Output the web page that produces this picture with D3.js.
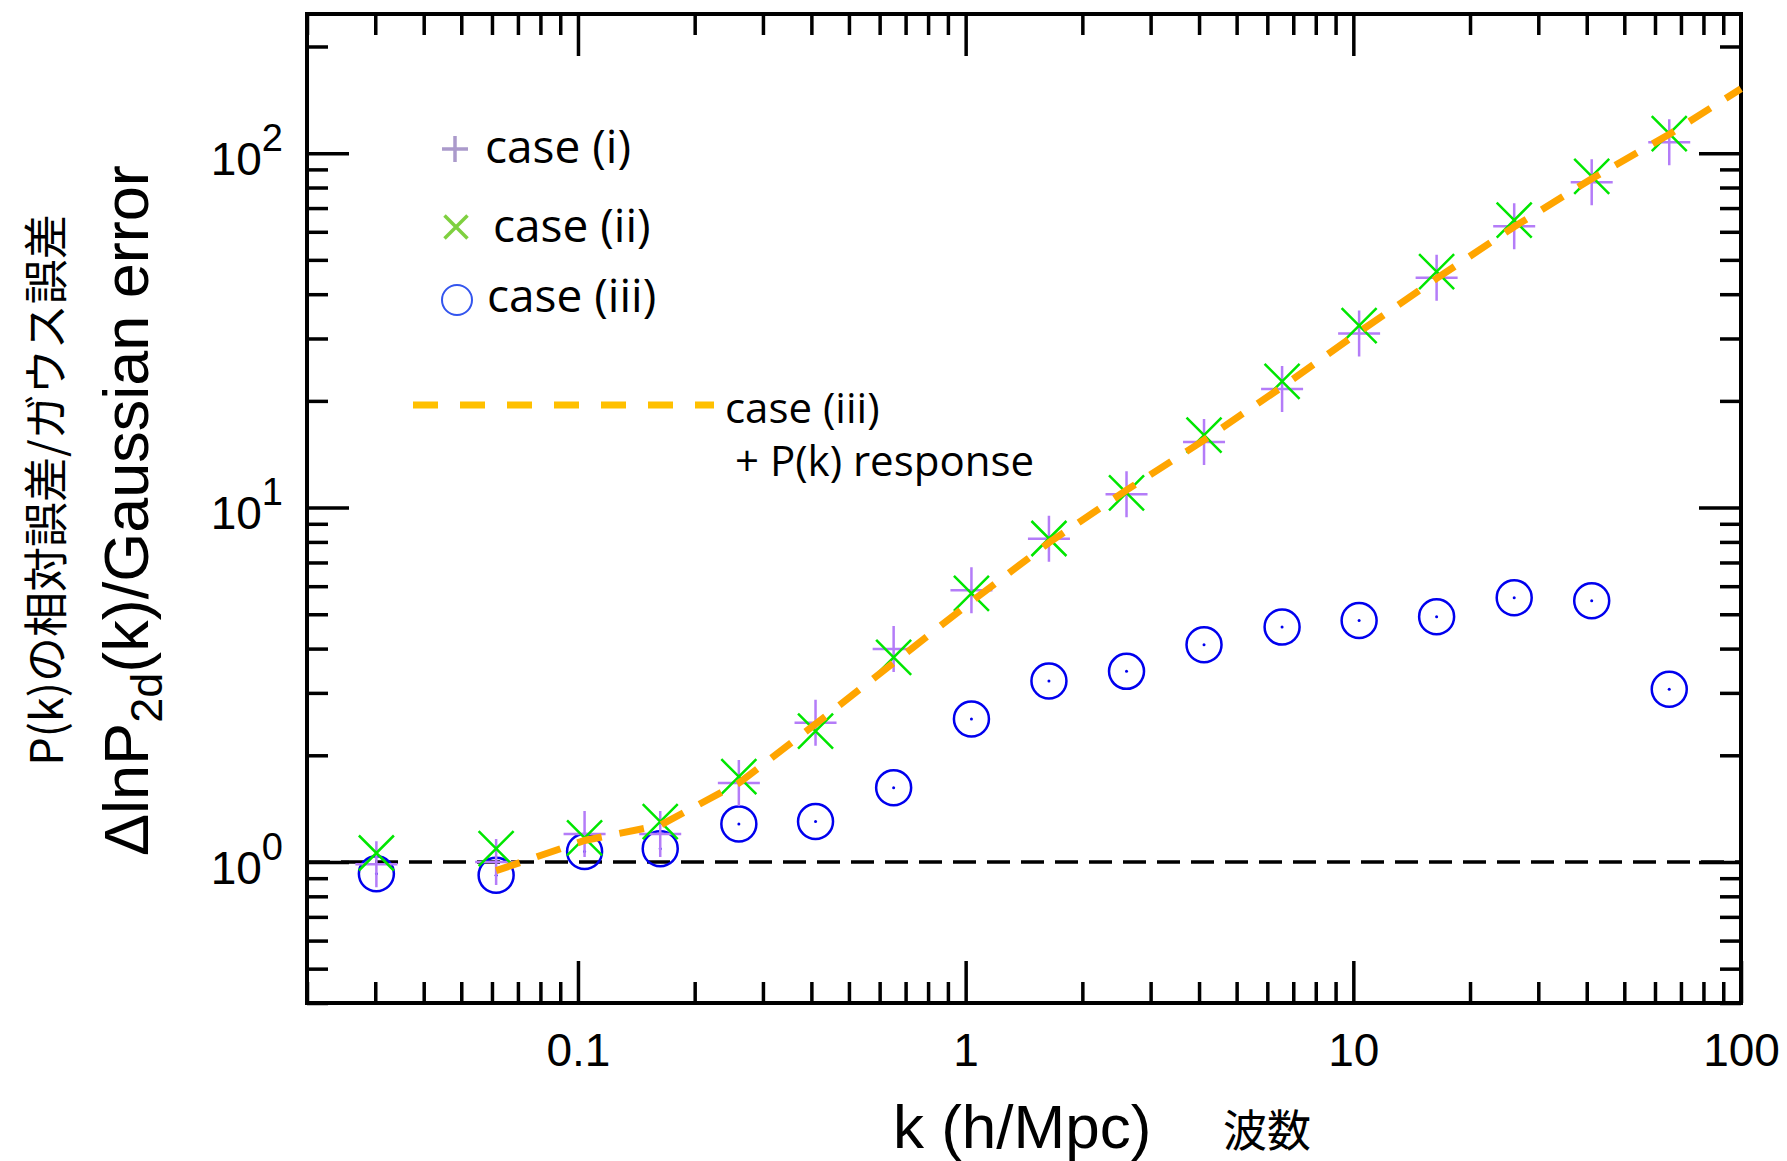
<!DOCTYPE html>
<html><head><meta charset="utf-8">
<script src="https://cdn.jsdelivr.net/npm/d3@7"></script>
<style>body{margin:0;background:#fff}svg{display:block}</style>
</head><body>
<svg id="c" width="1787" height="1161"></svg>
<script>
// ---- data ----
const kBins   = [0.0302, 0.0615, 0.104, 0.163, 0.26, 0.41, 0.652, 1.035, 1.64, 2.6, 4.12, 6.55, 10.35, 16.4, 26.0, 41.2, 65.3];
const caseI   = [0.985, 1.0, 1.2, 1.2, 1.67, 2.47, 3.99, 5.84, 8.16, 10.9, 15.3, 21.6, 31.0, 44.5, 62.2, 82.8, 107.4];
const caseII  = [1.06, 1.09, 1.17, 1.30, 1.74, 2.34, 3.78, 5.73, 8.18, 11.0, 16.0, 22.7, 32.6, 46.3, 64.7, 86.0, 113.5];
const caseIII = [0.926, 0.918, 1.07, 1.09, 1.28, 1.30, 1.62, 2.53, 3.24, 3.45, 4.10, 4.60, 4.80, 4.92, 5.57, 5.46, 3.07];
const respK   = [0.0615, 0.104, 0.163, 0.26, 0.41, 0.652, 1.035, 1.64, 2.6, 4.12, 6.55, 10.35, 16.4, 26.0, 41.2, 65.3, 100];
const respVal = [0.945, 1.15, 1.27, 1.67, 2.45, 3.65, 5.43, 7.96, 11.2, 15.5, 21.9, 31.3, 44.3, 62.0, 84.7, 113, 152];
const xMajor = [0.1, 1, 10, 100];
const xMajorLabels = ["0.1", "1", "10", "100"];
const yMajor = [1, 10, 100];
const yMajorExp = ["0", "1", "2"];
const legendLabels = ["case (i)", "case (ii)", "case (iii)"];
const respLabel = ["case (iii)", "+ P(k) response"];

// ---- layout ----
const svg = d3.select("#c");
const L = 307, R = 1741, T = 14, B = 1003;
const x = d3.scaleLog().domain([0.02, 100]).range([L, R]);
const y = d3.scaleLog().domain([0.4, 247]).range([B, T]);
const isPow10 = v => Math.abs(Math.log10(v) - Math.round(Math.log10(v))) < 1e-9;
const xMinor = x.ticks().filter(v => !isPow10(v));
const yMinor = y.ticks().filter(v => !isPow10(v));
const SANS = "'Liberation Sans', Arial, Helvetica, sans-serif";
const LEG = "'Open Sans', 'Noto Sans', sans-serif";
const CJK = "'Noto Sans CJK JP', sans-serif";

function styleAxis(g) {
  g.select(".domain").remove();
  g.selectAll(".tick line").attr("stroke", "#000").attr("stroke-width", 3.5);
}

// minor ticks on 4 sides
svg.append("g").attr("transform", `translate(0,${B})`)
  .call(d3.axisBottom(x).tickValues(xMinor).tickSize(-21).tickFormat("")).call(styleAxis);
svg.append("g").attr("transform", `translate(0,${T})`)
  .call(d3.axisTop(x).tickValues(xMinor).tickSize(-21).tickFormat("")).call(styleAxis);
svg.append("g").attr("transform", `translate(${L},0)`)
  .call(d3.axisLeft(y).tickValues(yMinor).tickSize(-21).tickFormat("")).call(styleAxis);
svg.append("g").attr("transform", `translate(${R},0)`)
  .call(d3.axisRight(y).tickValues(yMinor).tickSize(-21).tickFormat("")).call(styleAxis);

// major ticks
const gxb = svg.append("g").attr("transform", `translate(0,${B})`)
  .call(d3.axisBottom(x).tickValues(xMajor).tickSize(-42).tickPadding(30)
    .tickFormat((d, i) => xMajorLabels[i])).call(styleAxis);
gxb.selectAll(".tick text").attr("font-family", SANS).attr("font-size", 46).attr("fill", "#000");
svg.append("g").attr("transform", `translate(0,${T})`)
  .call(d3.axisTop(x).tickValues(xMajor.slice(0, 3)).tickSize(-42).tickFormat("")).call(styleAxis);
svg.append("g").attr("transform", `translate(${R},0)`)
  .call(d3.axisRight(y).tickValues(yMajor).tickSize(-42).tickFormat("")).call(styleAxis);
const gyl = svg.append("g").attr("transform", `translate(${L},0)`)
  .call(d3.axisLeft(y).tickValues(yMajor).tickSize(-42).tickPadding(24).tickFormat("")).call(styleAxis);
gyl.selectAll(".tick text").each(function(d, i) {
  const t = d3.select(this).attr("font-family", SANS).attr("font-size", 46).attr("fill", "#000").attr("dy", "0.46em");
  t.append("tspan").text("10");
  t.append("tspan").attr("dy", -24).attr("font-size", 38).text(yMajorExp[i]);
});

// frame
svg.append("rect").attr("x", L).attr("y", T).attr("width", R - L).attr("height", B - T)
  .attr("fill", "none").attr("stroke", "#000").attr("stroke-width", 4);

// unity dashed line
svg.append("path").datum([0.02, 100])
  .attr("d", d3.line().x(d => x(d)).y(() => y(1)))
  .attr("stroke", "#000").attr("stroke-width", 3.5).attr("stroke-dasharray", "23,11").attr("fill", "none");

// case (iii) circles
const gc = svg.append("g");
gc.selectAll("circle.o").data(kBins).join("circle")
  .attr("cx", d => x(d)).attr("cy", (d, i) => y(caseIII[i])).attr("r", 17.5)
  .attr("fill", "none").attr("stroke", "#0000ee").attr("stroke-width", 2.5);
gc.selectAll("circle.dot").data(kBins).join("circle").attr("class", "dot")
  .attr("cx", d => x(d)).attr("cy", (d, i) => y(caseIII[i])).attr("r", 1.5).attr("fill", "#0000ee");

// case (i) plus
svg.append("g").selectAll("path").data(kBins).join("path")
  .attr("d", (d, i) => { const cx = x(d), cy = y(caseI[i]);
    return `M${cx-21},${cy}H${cx+21}M${cx},${cy-23}V${cy+23}`; })
  .attr("stroke", "#b47cf8").attr("stroke-width", 2.5).attr("fill", "none");

// case (ii) cross
svg.append("g").selectAll("path").data(kBins).join("path")
  .attr("d", (d, i) => { const cx = x(d), cy = y(caseII[i]), s = 17.5;
    return `M${cx-s},${cy-s}L${cx+s},${cy+s}M${cx+s},${cy-s}L${cx-s},${cy+s}`; })
  .attr("stroke", "#00e600").attr("stroke-width", 2.5).attr("fill", "none");

// case (iii) + response
svg.append("path").datum(respK)
  .attr("d", d3.line().x(d => x(d)).y((d, i) => y(respVal[i])))
  .attr("stroke", "#ffa500").attr("stroke-width", 7).attr("stroke-dasharray", "25,18").attr("fill", "none");

// legend
const lg = svg.append("g");
lg.append("path").attr("d", "M442,149H468M455,136V162").attr("stroke", "#ab9acb").attr("stroke-width", 3.5);
lg.append("path").attr("d", "M444.5,215.5L467.5,238.5M467.5,215.5L444.5,238.5").attr("stroke", "#7fd040").attr("stroke-width", 3.5);
lg.append("circle").attr("cx", 457).attr("cy", 300).attr("r", 15).attr("fill", "none").attr("stroke", "#3355ee").attr("stroke-width", 2);
const legPos = [[485, 163], [493, 242], [487, 312]];
legendLabels.forEach((s, i) => lg.append("text").attr("x", legPos[i][0]).attr("y", legPos[i][1])
  .attr("font-family", LEG).attr("font-size", 46).attr("fill", "#000").text(s));
lg.append("line").attr("x1", 413).attr("x2", 714).attr("y1", 405).attr("y2", 405)
  .attr("stroke", "#ffc000").attr("stroke-width", 7).attr("stroke-dasharray", "25,22");
lg.append("text").attr("x", 725).attr("y", 423).attr("font-family", LEG).attr("font-size", 42).text(respLabel[0]);
lg.append("text").attr("x", 735).attr("y", 476).attr("font-family", LEG).attr("font-size", 42).text(respLabel[1]);

// axis titles
svg.append("text").attr("x", 893).attr("y", 1148).attr("font-family", SANS).attr("font-size", 62).text("k (h/Mpc)");
svg.append("text").attr("x", 1223).attr("y", 1147).attr("font-family", CJK).attr("font-size", 44).text("波数");

const yt = svg.append("text").attr("transform", "translate(148,856) rotate(-90)")
  .attr("font-family", SANS).attr("font-size", 63).attr("fill", "#000");
yt.append("tspan").text("ΔlnP");
yt.append("tspan").attr("font-size", 45).attr("dy", 14).text("2d");
yt.append("tspan").attr("dy", -14).text("(k)/Gaussian error");

svg.append("text").attr("transform", "translate(63,490) rotate(-90)").attr("text-anchor", "middle")
  .attr("font-family", CJK).attr("font-size", 45).attr("fill", "#000")
  .text("P(k)の相対誤差/ガウス誤差");
</script>
</body></html>
